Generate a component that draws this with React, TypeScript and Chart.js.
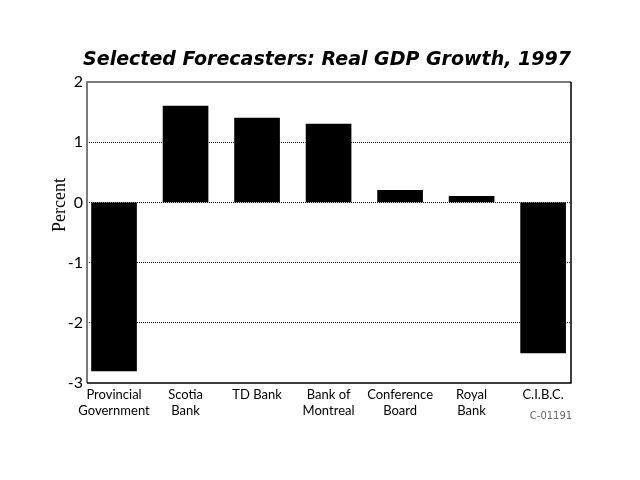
import React, { useEffect, useRef } from "react";
import { Chart, registerables } from "chart.js";

Chart.register(...registerables);

const categories: string[][] = [
  ["Provincial", "Government"],
  ["Scotia", "Bank"],
  ["TD Bank"],
  ["Bank of", "Montreal"],
  ["Conference", "Board"],
  ["Royal", "Bank"],
  ["C.I.B.C."],
];
const growth = [-2.8, 1.6, 1.4, 1.3, 0.2, 0.1, -2.5];
const yTicks = [2, 1, 0, -1, -2, -3];
const titleText = "Selected Forecasters: Real GDP Growth, 1997";
const yTitle = "Percent";
const sourceCode = "C-01191";

const framePlugin = {
  id: "frameAndText",
  afterDraw(chart: any) {
    const { ctx, chartArea } = chart;
    const { left, right, top, bottom } = chartArea;
    ctx.save();
    ctx.lineWidth = 2;
    ctx.strokeStyle = "#7a7a7a";
    ctx.beginPath();
    ctx.moveTo(left, bottom);
    ctx.lineTo(left, top);
    ctx.lineTo(right, top);
    ctx.stroke();
    ctx.strokeStyle = "#000";
    ctx.lineWidth = 1.5;
    ctx.beginPath();
    ctx.moveTo(right, top);
    ctx.lineTo(right, bottom);
    ctx.lineTo(left, bottom);
    ctx.stroke();
    ctx.fillStyle = "#000";
    ctx.font = "italic bold 19px 'DejaVu Sans'";
    ctx.textAlign = "center";
    ctx.textBaseline = "alphabetic";
    ctx.fillText(titleText, 327, 65);
    ctx.save();
    ctx.translate(60, 205);
    ctx.rotate(-Math.PI / 2);
    ctx.font = "18px 'Liberation Serif'";
    ctx.textBaseline = "middle";
    ctx.fillText(yTitle, 0, 0);
    ctx.restore();
    ctx.fillStyle = "#666";
    ctx.font = "10px 'DejaVu Sans'";
    ctx.textAlign = "center";
    ctx.textBaseline = "middle";
    ctx.fillText(sourceCode, 551, 416);
    ctx.restore();
  },
};

export default function App() {
  const ref = useRef<HTMLCanvasElement>(null);
  useEffect(() => {
    const chart = new Chart(ref.current!, {
      type: "bar",
      data: {
        datasets: [
          {
            data: growth.map((v, i) => ({ x: i, y: v })),
            backgroundColor: "#000",
            borderWidth: 0,
            barThickness: 45,
          },
        ],
      },
      options: {
        animation: false,
        responsive: false,
        devicePixelRatio: 1,
        layout: { padding: { top: 82, right: 69, bottom: 0, left: 0 } },
        plugins: { legend: { display: false }, tooltip: { enabled: false }, title: { display: false } },
        scales: {
          x: {
            type: "linear",
            offset: false,
            bounds: "data",
            min: -0.378,
            max: 6.39,
            afterBuildTicks: (s: any) => {
              s.ticks = categories.map((_, i) => ({ value: i }));
            },
            afterFit: (s: any) => {
              s.height = 97;
            },
            ticks: {
              callback: (v: any) => categories[Math.round(Number(v))] ?? "",
              font: { family: "Lato", size: 13 },
              color: "#000",
              maxRotation: 0,
              autoSkip: false,
              padding: 4,
            },
            grid: { display: false, drawTicks: false, offset: false },
            border: { display: false },
          },
          y: {
            min: -3,
            max: 2,
            afterBuildTicks: (s: any) => {
              s.ticks = yTicks.map((v) => ({ value: v }));
            },
            afterFit: (s: any) => {
              s.width = 87;
            },
            ticks: {
              font: { family: "Lato", size: 16 },
              color: "#000",
              padding: 4,
            },
            grid: {
              drawTicks: false,
              color: (c: any) =>
                c.tick && (c.tick.value === 2 || c.tick.value === -3) ? "rgba(0,0,0,0)" : "#000",
              lineWidth: 1,
            },
            border: { display: false, dash: [1, 1] },
          },
        },
      },
      plugins: [framePlugin],
    });
    return () => chart.destroy();
  }, []);
  return (
    <div style={{ position: "absolute", left: 0, top: 0, width: 640, height: 480, background: "#fff" }}>
      <canvas ref={ref} width={640} height={480} />
    </div>
  );
}
